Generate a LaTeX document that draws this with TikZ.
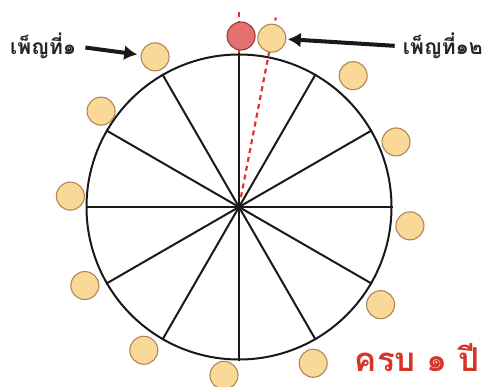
\documentclass[tikz,border=0pt]{standalone}
\usepackage{fontspec}
\newfontfamily\thaifont[Script=Thai]{Loma}
\usetikzlibrary{arrows.meta}
\definecolor{ballfill}{RGB}{250,216,152}
\definecolor{ballborder}{RGB}{175,135,85}
\definecolor{redfill}{RGB}{228,112,112}
\definecolor{redborder}{RGB}{150,60,60}
\definecolor{textred}{RGB}{214,52,40}
\definecolor{dashred}{RGB}{228,48,48}
\tikzset{
  ball/.style={circle, draw=ballborder, fill=ballfill, line width=1.1pt, minimum size=28pt, inner sep=0pt},
  redball/.style={ball, draw=redborder, fill=redfill},
  spoke/.style={line width=2pt, black!90},
  reddash/.style={dashred, line width=2.2pt, dash pattern=on 5pt off 4pt},
  bigarrow/.style={line width=4pt, black!90, -{Latex[length=13pt,width=15pt]}},
  label/.style={font=\thaifont\bfseries\fontsize{21}{24}\selectfont, inner sep=0pt, black!85}
}
\begin{document}
\begin{tikzpicture}[x=1pt,y=1pt]
\useasboundingbox (0,0) rectangle (484,386);
\coordinate (O) at (239,179);
% dashed guide lines (under balls)
\coordinate (d12) at ([shift={(79:193)}]O);
\coordinate (d0s) at ([shift={(90:154)}]O);
\coordinate (d0e) at ([shift={(90:195)}]O);
\draw[reddash] ([shift={(79:10)}]O) -- (d12);
\draw[reddash] (d0s) -- (d0e);
% wheel
\node[circle, draw, black!90, line width=2pt, minimum size=305pt, inner sep=0pt] (wheel) at (O) {};
\foreach \a [evaluate=\a as \b using int(\a+180)] in {0,30,...,150}
  \draw[spoke] (wheel.\a) -- (wheel.\b);
% balls
\node[redball] (b0) at ([shift={(89.3:171)}]O) {};
\node[ball] (b1) at ([shift={(119.2:172)}]O) {};
\node[ball] (b2) at ([shift={(145.2:168)}]O) {};
\node[ball] (b3) at ([shift={(176.3:169)}]O) {};
\node[ball] (b4) at ([shift={(207:173)}]O) {};
\node[ball] (b5) at ([shift={(236.4:172)}]O) {};
\node[ball] (b6) at ([shift={(264.9:169)}]O) {};
\node[ball] (b7) at ([shift={(295.4:173)}]O) {};
\node[ball] (b8) at ([shift={(325.4:172)}]O) {};
\node[ball] (b9) at ([shift={(353.7:172)}]O) {};
\node[ball] (b10) at ([shift={(22.5:170)}]O) {};
\node[ball] (b11) at ([shift={(49:174)}]O) {};
\node[ball] (b12) at ([shift={(79:172)}]O) {};
% labels
\node[label, anchor=base west] (lab1) at (10,331) {เพ็ญที่๑};
\node[label, anchor=base east] (lab12) at (483,331) {เพ็ญที่๑๒};
\draw[bigarrow, shorten <=9pt, shorten >=18pt] (lab1.east) -- (b1.center);
\draw[bigarrow, shorten <=8pt, shorten >=16pt] (lab12.west) -- (b12.center);
% title
\node[font=\thaifont\bfseries\fontsize{33}{37}\selectfont, text=textred, inner sep=0pt, text depth=0pt, anchor=base east] (title) at (480,15) {ครบ ๑ ปี};
\end{tikzpicture}
\end{document}
